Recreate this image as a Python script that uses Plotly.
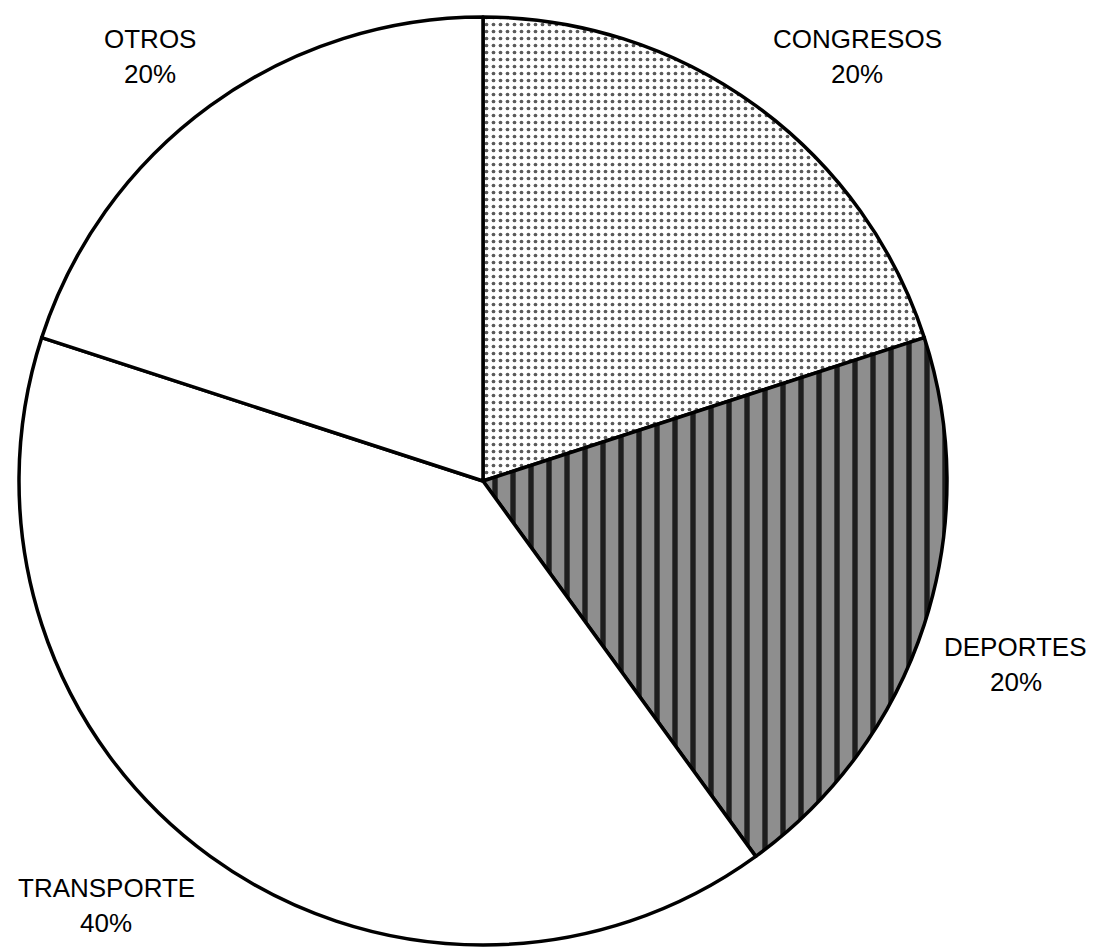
import plotly.graph_objects as go

# Data
categories = ["CONGRESOS", "DEPORTES", "TRANSPORTE", "OTROS"]
values = [20, 20, 40, 20]

# Styles (not data)
fill_colors = ["#ffffff", "#8e8e8e", "#ffffff", "#ffffff"]
pattern_shapes = [".", "|", "", ""]
pattern_fg = ["#5a5a5a", "#1e1e1e", "#000000", "#000000"]
pattern_sizes = [7, 18, 8, 8]
pattern_solidity = [0.22, 0.3, 0.2, 0.2]

# Label positions in pixels (centre of label block)
label_px = [(857, 56), (1016, 664), (106, 905), (150, 56)]

W, H = 1097, 949
cx, cy, r = 483, 481, 464

fig = go.Figure(go.Pie(
    labels=categories,
    values=values,
    sort=False,
    direction="clockwise",
    rotation=0,
    textinfo="none",
    hoverinfo="label+percent",
    marker=dict(
        colors=fill_colors,
        line=dict(color="#000000", width=3.5),
        pattern=dict(
            shape=pattern_shapes,
            fgcolor=pattern_fg,
            bgcolor=fill_colors,
            size=pattern_sizes,
            solidity=pattern_solidity,
        ),
    ),
    domain=dict(
        x=[(cx - r) / W, (cx + r) / W],
        y=[(H - cy - r) / H, (H - cy + r) / H],
    ),
    showlegend=False,
))

total = sum(values)
annotations = []
for cat, val, (px, py) in zip(categories, values, label_px):
    pct = f"{round(100 * val / total)}%"
    annotations.append(dict(
        x=px / W, y=1 - (py - 17) / H, xref="paper", yref="paper",
        text=cat, showarrow=False, xanchor="center", yanchor="middle",
        font=dict(family="Liberation Sans, Arial, sans-serif", size=26, color="#000000"),
    ))
    annotations.append(dict(
        x=px / W, y=1 - (py + 18) / H, xref="paper", yref="paper",
        text=pct, showarrow=False, xanchor="center", yanchor="middle",
        font=dict(family="Liberation Sans, Arial, sans-serif", size=26, color="#000000"),
    ))

fig.update_layout(
    width=W, height=H,
    margin=dict(l=0, r=0, t=0, b=0),
    paper_bgcolor="#ffffff",
    plot_bgcolor="#ffffff",
    annotations=annotations,
)

fig.write_html(
    "out.html",
    config={"displayModeBar": False},
    post_script="document.body.style.margin='0';document.body.style.overflow='hidden';",
)
